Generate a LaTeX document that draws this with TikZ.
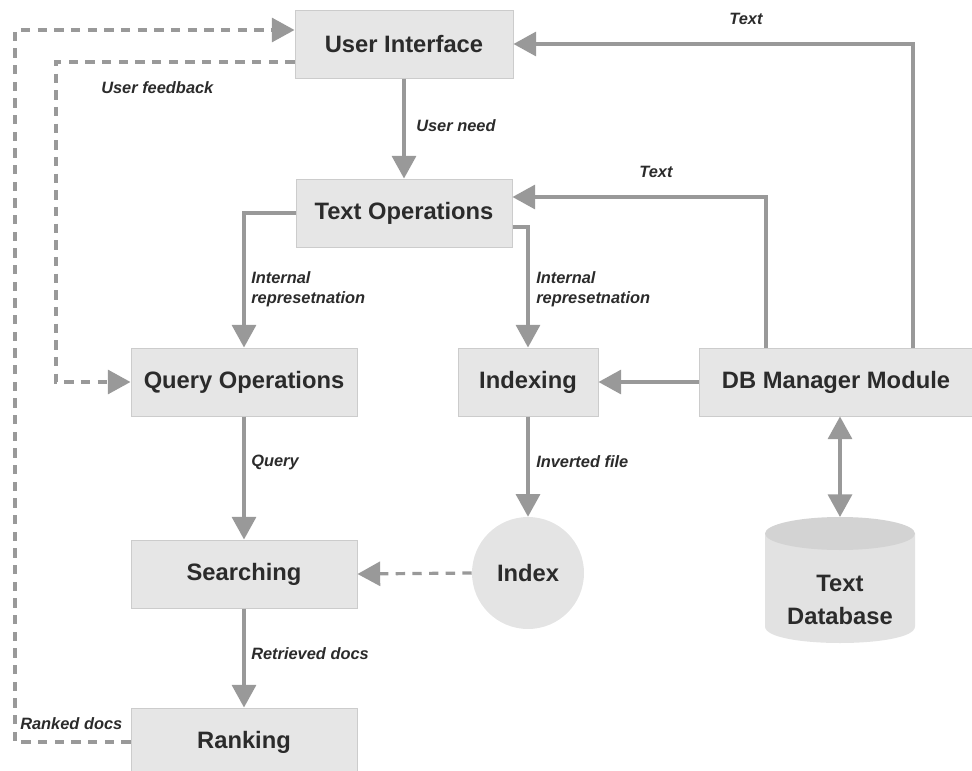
\documentclass[tikz,border=0pt]{standalone}
\usepackage{fontspec}
\setmainfont{Liberation Sans}
\usetikzlibrary{arrows.meta}
\definecolor{boxfill}{HTML}{E6E6E6}
\definecolor{boxline}{HTML}{CCCCCC}
\definecolor{wire}{HTML}{999999}
\definecolor{ink}{HTML}{2B2B2B}
\definecolor{cylbody}{HTML}{E2E2E2}
\definecolor{cyltop}{HTML}{D3D3D3}
\definecolor{circfill}{HTML}{E4E4E4}

\begin{document}
\begin{tikzpicture}[x=0.75pt,y=-0.75pt,
  block/.style={draw=boxline, line width=0.75pt, fill=boxfill, minimum height=51pt,
    inner sep=0pt, text=ink, font=\fontsize{17.8}{20}\selectfont\bfseries},
  lbl/.style={text=ink, font=\fontsize{12.3}{15}\selectfont\bfseries\itshape,
    inner sep=0pt, align=left},
  tipstyle/.style={-{Triangle[length=17pt,width=18pt]}},
  wirearrow/.style={draw=wire, line width=2.6pt, tipstyle},
  dashwire/.style={draw=wire, line width=2.4pt, dash pattern=on 7pt off 5.5pt, tipstyle},
  bothways/.style={draw=wire, line width=2.6pt,
    {Triangle[length=17pt,width=18pt]}-{Triangle[length=17pt,width=18pt]}}
]
\useasboundingbox (0,0) rectangle (972,771);

% text database cylinder
\fill[cylbody] (765,533.5) -- (765,626.5)
  .. controls (765,648.5) and (915,648.5) .. (915,626.5) -- (915,533.5) -- cycle;
\fill[cyltop] (840,533.5) ellipse [x radius=56.25pt, y radius=12.375pt];
\coordinate (tdbtop) at (840,517);
\node[text=ink, font=\fontsize{17.8}{25}\selectfont\bfseries, align=center, inner sep=0pt]
  (tdb) at (840,600) {Text\\Database};

% process blocks
\node[block, minimum width=163.5pt] (ui)     at (404,44)  {User Interface};
\node[block, minimum width=162pt]   (tops)   at (404,213) {Text Operations};
\node[block, minimum width=169.5pt] (qops)   at (244,382) {Query Operations};
\node[block, minimum width=105pt]   (idxing) at (528,382) {Indexing};
\node[block, minimum width=205.5pt] (dbm)    at (836,382) {DB Manager Module};
\node[block, minimum width=169.5pt] (srch)   at (244,574) {Searching};
\node[block, minimum width=169.5pt] (rank)   at (244,742) {Ranking};
\node[circle, fill=circfill, minimum size=84pt, inner sep=0pt, text=ink,
  font=\fontsize{17.8}{20}\selectfont\bfseries] (index) at (528,573) {Index};

% bends of the feedback loops
\coordinate (fbcorner) at (56,200);
\coordinate (rkcorner) at (15,400);

% solid connectors
\draw[wirearrow] (ui) -- (tops);
\draw[wirearrow] (tops.west) -| (qops.north);
\draw[wirearrow] ([yshift=-10.5pt]tops.east) -| (idxing.north);
\draw[wirearrow] (dbm.west) -- (idxing.east);
\draw[wirearrow] ([xshift=-52.5pt]dbm.north) |- ([yshift=12pt]tops.east);
\draw[wirearrow] ([xshift=57.75pt]dbm.north) |- (ui.east);
\draw[bothways] (tdbtop |- dbm.south) -- (tdbtop);
\draw[wirearrow] (qops) -- (srch);
\draw[wirearrow] (idxing) -- (index);
\draw[wirearrow] (srch) -- (rank);

% dashed connectors
\draw[dashwire] (index.west) -- (srch.east);
\draw[dashwire] ([yshift=-13.5pt]ui.west) -| (fbcorner) |- (qops.west);
\draw[dashwire] (rank.west) -| (rkcorner) |- ([yshift=10.5pt]ui.west);

% connector labels
\node[lbl, anchor=west] (lneed) at (416,126) {User need};
\node[lbl, anchor=west] (lint1) at (251,289) {Internal\\represetnation};
\node[lbl, anchor=west] (lint2) at (536,289) {Internal\\represetnation};
\node[lbl] (ltext1) at (746,19) {Text};
\node[lbl] (ltext2) at (656,172) {Text};
\node[lbl, anchor=west] (lfeed) at (101,88) {User feedback};
\node[lbl, anchor=west] (lquery) at (251,462) {Query};
\node[lbl, anchor=west] (linv) at (536,462) {Inverted file};
\node[lbl, anchor=west] (lret) at (251,654) {Retrieved docs};
\node[lbl, anchor=west] (lrank) at (20,724) {Ranked docs};
\end{tikzpicture}
\end{document}
